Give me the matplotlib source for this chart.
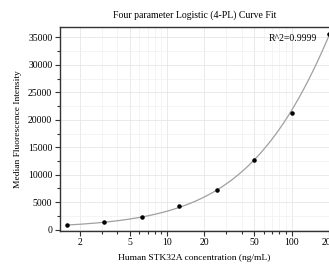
import numpy as np
import matplotlib
matplotlib.use("Agg")
import matplotlib.pyplot as plt
from matplotlib.ticker import LogLocator, FixedLocator, FixedFormatter, MultipleLocator, NullFormatter

conc = [1.5625, 3.125, 6.25, 12.5, 25, 50, 100, 200]
mfi = [850, 1330, 2240, 4240, 7150, 12600, 21330, 35700]
xtick_vals = [2, 5, 10, 20, 50, 100, 200]
xtick_labels = ["2", "5", "10", "20", "50", "100", "200"]
yticks = [0, 5000, 10000, 15000, 20000, 25000, 30000, 35000]
title = "Four parameter Logistic (4-PL) Curve Fit"
xlabel = "Human STK32A concentration (ng/mL)"
ylabel = "Median Fluorescence Intensity"
r2_text = "R^2=0.9999"

plt.rcParams['font.family'] = ['Liberation Serif', 'DejaVu Serif']

W, H = 329, 264
fig = plt.figure(figsize=(W / 100, H / 100), dpi=100)
ax = fig.add_axes([60 / W, 1 - 230.5 / H, (W - 60) / W, (230.5 - 27) / H])

# smooth fitted curve (log-log polynomial fit of the data)
lx = np.log10(conc)
ly = np.log10(mfi)
coef = np.polyfit(lx, ly, 3)
xs = np.logspace(np.log10(conc[0]), np.log10(conc[-1]), 300)
ys = 10 ** np.polyval(coef, np.log10(xs))
ax.plot(xs, ys, color="#a0a0a0", lw=0.9, zorder=2)
ax.scatter(conc, mfi, s=5, color="black", zorder=3, clip_on=False)

ax.set_xscale("log")
ax.set_xlim(1.382, 200)
ax.set_ylim(-150, 36900)

ax.xaxis.set_major_locator(FixedLocator(xtick_vals))
ax.xaxis.set_major_formatter(FixedFormatter(xtick_labels))
ax.xaxis.set_minor_locator(LogLocator(base=10, subs=np.arange(1, 10)))
ax.xaxis.set_minor_formatter(NullFormatter())
ax.yaxis.set_major_locator(FixedLocator(yticks))
ax.yaxis.set_minor_locator(MultipleLocator(2500))

ax.grid(True, which="major", color="#e6e6e6", lw=0.6)
ax.grid(True, which="minor", color="#f0f0f0", lw=0.5)
ax.set_axisbelow(True)

for s in ["left", "bottom", "top"]:
    ax.spines[s].set_color("#333333")
    ax.spines[s].set_linewidth(1.0)
ax.spines["right"].set_visible(False)

ax.tick_params(which="both", direction="out", color="#333333", width=0.8)
ax.tick_params(which="major", length=3.5, labelsize=7, pad=2)
ax.tick_params(which="minor", length=2.5)

ax.set_title(title, fontsize=7, pad=7)
ax.set_xlabel(xlabel, fontsize=6.8, labelpad=5)
ax.set_ylabel(ylabel, fontsize=6.8, labelpad=4)
ax.text(0.775, 0.945, r2_text, transform=ax.transAxes, fontsize=7, va="center", ha="left")

fig.savefig("out.png", dpi=100)
